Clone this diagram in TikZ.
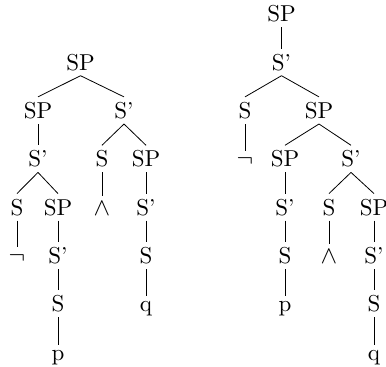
\documentclass[tikz,border=0pt]{standalone}
\usepackage{fontspec}
\setmainfont{lmroman10-regular}[Extension=.otf]
\begin{document}
\begin{tikzpicture}[x=1pt,y=-1pt,
  every node/.style={font=\fontsize{23}{27}\selectfont, inner sep=5pt, anchor=base},
  edgeline/.style={line width=0.8pt}]
\useasboundingbox (0,0) rectangle (386,367);
% level baselines: 21.6 + 48.35k
% ---- left tree ----
\node (a0) at (80.5,70) {SP};
\node (a1) at (38,118.3) {SP};
\node (a2) at (124,118.3) {S'};
\node (a3) at (38,166.7) {S'};
\node (a4) at (102,166.7) {S};
\node (a5) at (146,166.7) {SP};
\node (a6) at (17,215) {S};
\node (a7) at (58,215) {SP};
\node (a8) at (102,215) {$\wedge$};
\node (a9) at (146,215) {S'};
\node (a10) at (17,263.4) {$\neg$};
\node (a11) at (58,263.4) {S'};
\node (a12) at (146,263.4) {S};
\node (a13) at (58,311.7) {S};
\node (a14) at (146,311.7) {q};
\node (a15) at (58,360) {p};
\foreach \p/\c in {a0/a1,a0/a2,a1/a3,a2/a4,a2/a5,a3/a6,a3/a7,a4/a8,a5/a9,a6/a10,a7/a11,a9/a12,a11/a13,a12/a14,a13/a15}
  \draw[edgeline] (\p.south) -- (\c.north);
% ---- right tree ----
\node (b0) at (281.5,21.6) {SP};
\node (b1) at (281.5,70) {S'};
\node (b2) at (245,118.3) {S};
\node (b3) at (319,118.3) {SP};
\node (b4) at (245,166.7) {$\neg$};
\node (b5) at (285,166.7) {SP};
\node (b6) at (351,166.7) {S'};
\node (b7) at (285,215) {S'};
\node (b8) at (329,215) {S};
\node (b9) at (374,215) {SP};
\node (b10) at (285,263.4) {S};
\node (b11) at (329,263.4) {$\wedge$};
\node (b12) at (374,263.4) {S'};
\node (b13) at (285,311.7) {p};
\node (b14) at (374,311.7) {S};
\node (b15) at (374,360) {q};
\foreach \p/\c in {b0/b1,b1/b2,b1/b3,b2/b4,b3/b5,b3/b6,b5/b7,b6/b8,b6/b9,b7/b10,b8/b11,b9/b12,b10/b13,b12/b14,b14/b15}
  \draw[edgeline] (\p.south) -- (\c.north);
\end{tikzpicture}
\end{document}
